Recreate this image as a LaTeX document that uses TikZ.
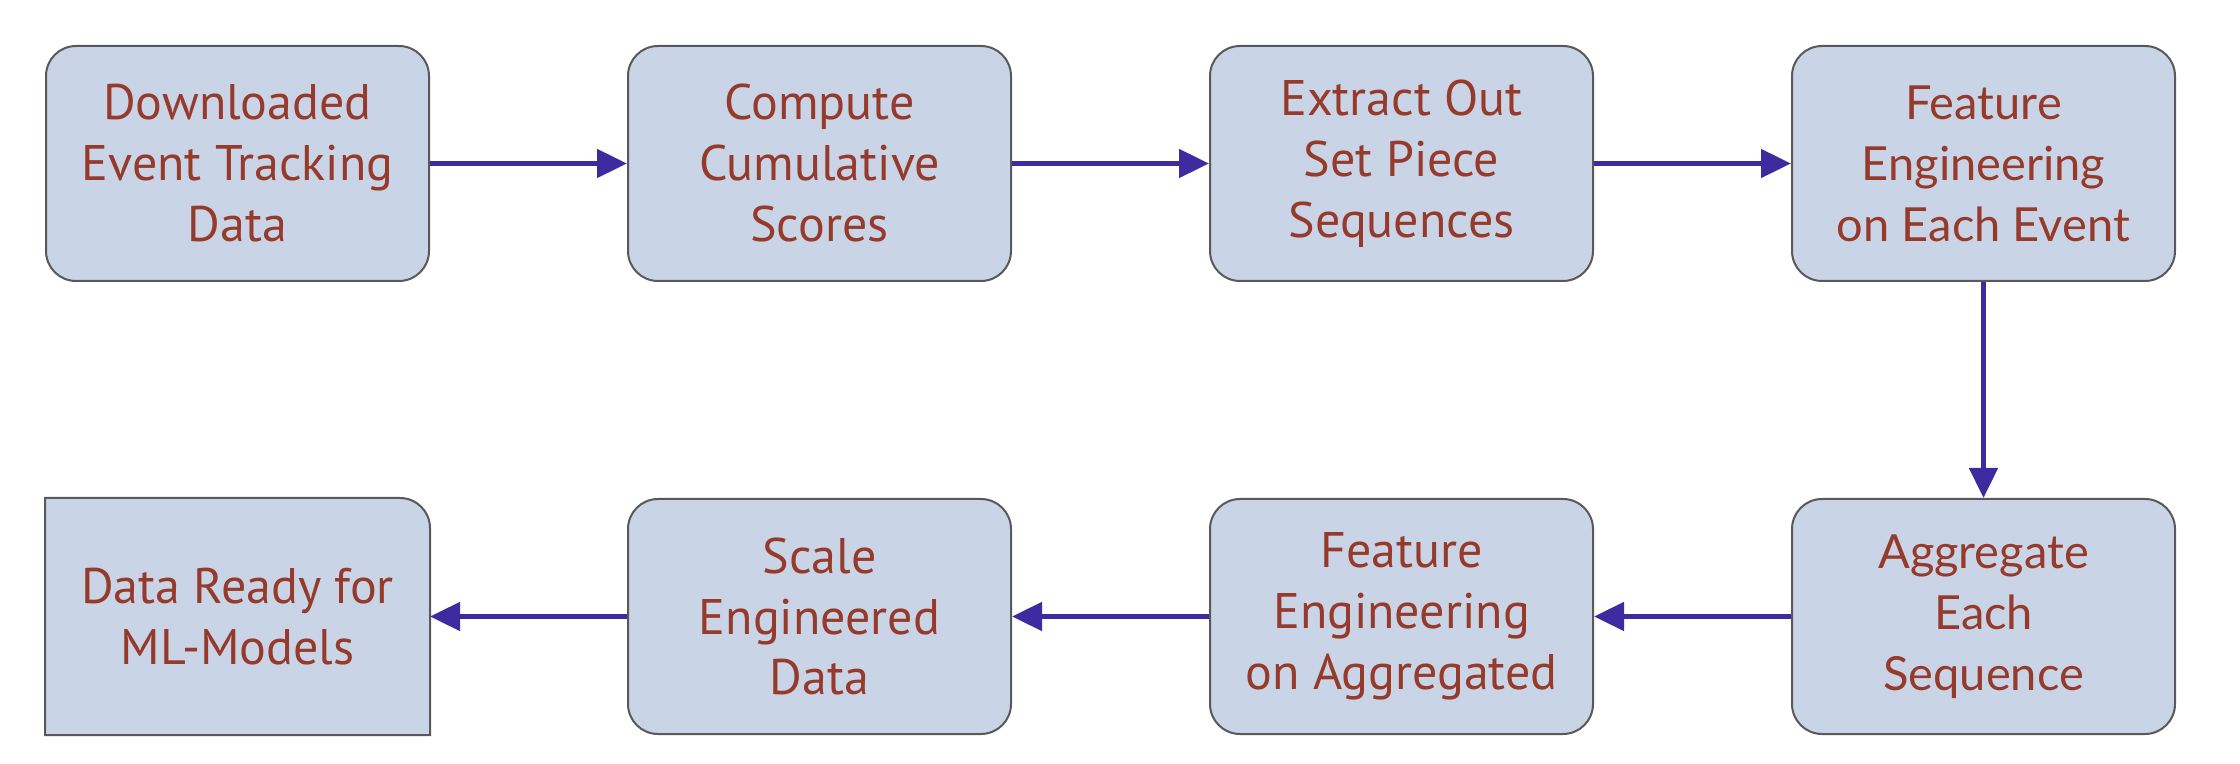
\documentclass[tikz,border=0pt]{standalone}
\usepackage{fontspec}
\setmainfont{PT Sans}
\newfontfamily\latofont{Lato}
\usetikzlibrary{positioning, arrows.meta, backgrounds}
\definecolor{boxfill}{HTML}{C9D4E6}
\definecolor{boxline}{HTML}{595959}
\definecolor{textred}{HTML}{963B2B}
\definecolor{flowblue}{HTML}{3F2BA0}

\begin{document}
\begin{tikzpicture}[
    stepnode/.style={rectangle, rounded corners=15pt, draw=boxline, fill=boxfill, line width=1pt, minimum width=191.5pt, minimum height=117.5pt, inner sep=0pt, align=center, text=textred, font=\fontsize{25}{30.5}\selectfont},
    latonode/.style={stepnode, font=\latofont\fontsize{23.5}{30.5}\selectfont},
    flow/.style={draw=flowblue, line width=2.4pt, -{Triangle[length=15pt,width=14pt]}},
    node distance=108pt and 98.5pt,
    ]
    \useasboundingbox (0,0) rectangle (1120pt,-382pt);
    %Nodes
    \node[stepnode] (download) at (118.75pt,-81.75pt) {Downloaded\\Event Tracking\\Data};
    \node[stepnode] (cumul) [right=of download] {Compute\\Cumulative\\Scores};
    \node[stepnode] (setpiece) [right=of cumul] {Extract Out\\Set Piece\\Sequences};
    \node[latonode] (fevent) [right=of setpiece] {Feature\\Engineering\\on Each Event};
    \node[latonode] (aggr) [below=of fevent] {Aggregate\\Each\\Sequence};
    \node[stepnode] (faggr) [left=of aggr] {Feature\\Engineering\\on Aggregated};
    \node[stepnode] (scale) [left=of faggr] {Scale\\Engineered\\Data};
    \node[stepnode, draw=none, fill=none] (ready) [left=of scale] {Data Ready for\\ML-Models};
    
    \begin{scope}[on background layer]
    \filldraw[draw=boxline, fill=boxfill, line width=1pt] (ready.south west) -- (ready.north west) -- ([xshift=-15pt]ready.north east) arc[start angle=90, end angle=0, radius=15pt] -- (ready.south east) -- cycle;
    \end{scope}
    
    \draw[flow] (download)--(cumul);
    \draw[flow] (cumul)--(setpiece);
    \draw[flow] (setpiece)--(fevent);
    \draw[flow] (fevent)--(aggr);
    \draw[flow] (aggr)--(faggr);
    \draw[flow] (faggr)--(scale);
    \draw[flow] (scale)--(ready);
    \end{tikzpicture}
\end{document}
